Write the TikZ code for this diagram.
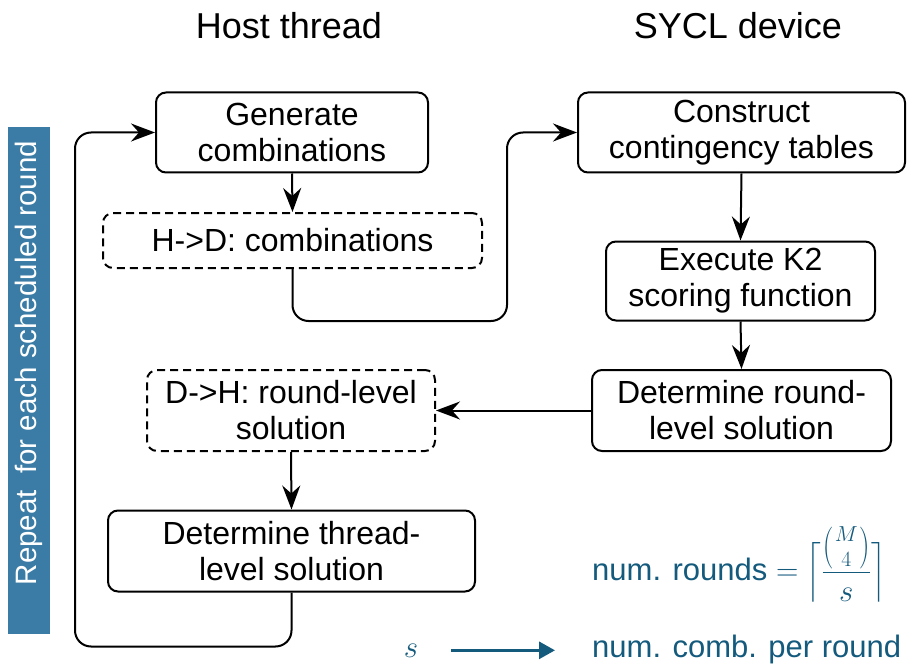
\RequirePackage{fix-cm}
\documentclass[tikz,border=0pt]{standalone}
\usepackage{fontspec}
\setmainfont{Liberation Sans}
\usepackage{amsmath}
\usepackage{graphicx}
\usetikzlibrary{arrows.meta}
\definecolor{loopblue}{RGB}{58,124,166}
\definecolor{noteblue}{RGB}{20,90,125}
% a parenthesis stretched vertically and centred on the math axis
\newcommand\tallparen[1]{\vcenter{\hbox{\scalebox{1}[1.35]{$#1$}}}}
\begin{document}
\begin{tikzpicture}[x=1pt,y=-1pt,
  box/.style={draw, line width=2pt, rounded corners=10pt, align=center,
    inner sep=0pt, font=\fontsize{32}{36}\selectfont},
  xfer/.style={box, dash pattern=on 8pt off 5pt},
  flow/.style={line width=2pt, rounded corners=16pt,
    -{Stealth[length=24pt,width=18pt,inset=8pt]}},
  noteflow/.style={line width=3pt, draw=noteblue,
    -{Triangle[length=16pt,width=17pt]}},
  heading/.style={anchor=base, font=\fontsize{36}{40}\selectfont},
  note/.style={text=noteblue, inner sep=0pt, font=\fontsize{31}{36}\selectfont}]
\useasboundingbox (0,0) rectangle (908,666);

% column headings
\node[heading] (host) at (289,39) {Host thread};
\node[heading] (dev) at (738,39) {SYCL device};

% loop marker
\node[fill=loopblue, minimum width=42pt, minimum height=507pt,
  inner sep=0pt] (loop) at (29,380.5) {};
\node[rotate=90, inner sep=0pt, text=white,
  font=\fontsize{29.5}{34}\selectfont]
  (looplabel) at (29,363) {Repeat\ \ for each scheduled round};

% host side
\node[box, minimum width=272pt, minimum height=80pt] (gen) at (292,132.5)
  {Generate\\combinations};
\node[xfer, minimum width=379pt, minimum height=55pt] (hd) at (292.5,240.5)
  {H->D: combinations};
\node[xfer, minimum width=288pt, minimum height=81pt] (dh) at (291,410.5)
  {D->H: round-level\\solution};
\node[box, minimum width=367pt, minimum height=81pt] (thr) at (291.5,551)
  {Determine thread-\\level solution};

% device side
\node[box, minimum width=327pt, minimum height=80pt] (con) at (741.5,132.5)
  {Construct\\contingency tables};
\node[box, minimum width=269pt, minimum height=79pt] (exe) at (740.5,281)
  {Execute K2\\scoring function};
\node[box, minimum width=299pt, minimum height=81pt] (rnd) at (741.5,410.5)
  {Determine round-\\level solution};

% flow
\draw[flow] (gen.south) -- (hd.north);
\draw[flow] (hd.south) -- ++(0,52) -| (507,132.5) -- (con.west);
\draw[flow] (con.south) -- (exe.north);
\draw[flow] (exe.south) -- (rnd.north);
\draw[flow] (rnd.west) -- (dh.east);
\draw[flow] (dh.south) -- (thr.north);
\draw[flow] (thr.south) -- ++(0,54) -| (75,132.5) -- (gen.west);

% notes
\node[note, anchor=base west] (rounds) at (592,580)
  {num. rounds $=\left\lceil\vphantom{\rule[-23pt]{0pt}{62pt}}%
   \smash{\dfrac{\mathopen{\tallparen(}\genfrac{}{}{0pt}{1}{M}{4}%
   \mathclose{\tallparen)}}{s}}\right\rceil$};
\node[note, anchor=base] (s) at (411,657) {$s$};
\node[note, anchor=base west] (per) at (592,657) {num. comb. per round};
\draw[noteflow, shorten <=33pt] (s.east) -- (s.east -| 555,0);
\end{tikzpicture}
\end{document}
